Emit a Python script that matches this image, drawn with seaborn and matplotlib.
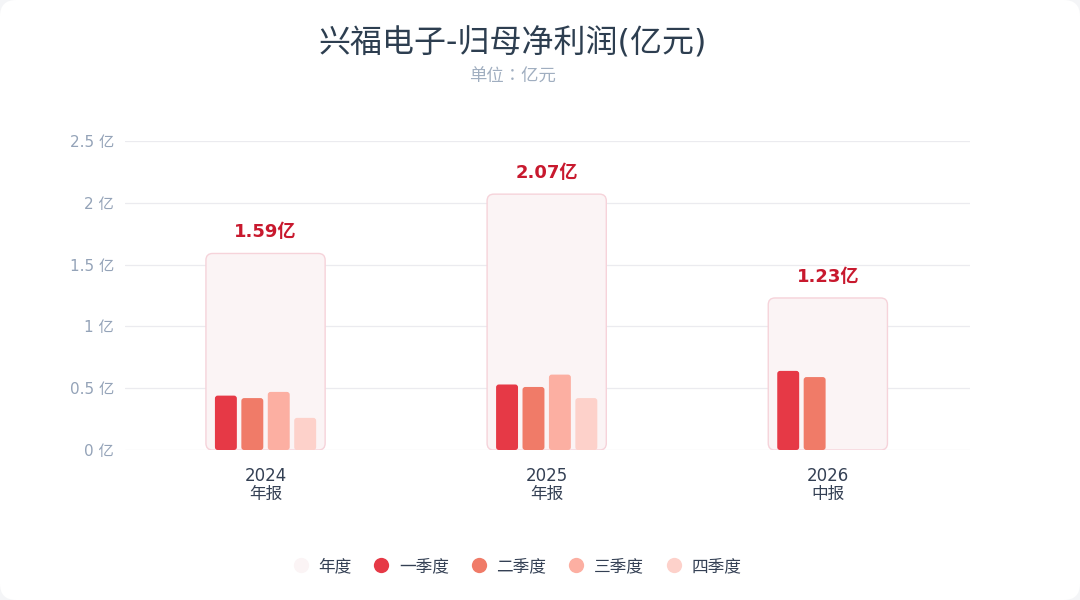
import matplotlib

matplotlib.use('Agg')
import matplotlib.pyplot as plt
from matplotlib.patches import FancyBboxPatch
from matplotlib.lines import Line2D
import numpy as np
import pandas as pd
import seaborn as sns

# data (亿元)
periods = ['2024\n年报', '2025\n年报', '2026\n中报']
annual = [1.59, 2.07, 1.23]
quarters = ['一季度', '二季度', '三季度', '四季度']
q1 = [0.44, 0.53, 0.64]
q2 = [0.42, 0.51, 0.59]
q3 = [0.47, 0.61, np.nan]
q4 = [0.26, 0.42, np.nan]
y_ticks = [0, 0.5, 1, 1.5, 2, 2.5]

q_colors = ['#e63946', '#f07b68', '#fcafa2', '#fdd1ca']
annual_fill = '#fbf4f5'
annual_edge = '#f6d3da'

sns.set_theme(style='white')
plt.rcParams['font.family'] = ['DejaVu Sans', 'Noto Sans CJK SC']

fig = plt.figure(figsize=(10.8, 6), dpi=100)
fig.patch.set_facecolor('#f4f5f7')
card = FancyBboxPatch((0, 0), 1, 1, boxstyle='round,pad=0,rounding_size=0.015',
                      transform=fig.transFigure, facecolor='white', edgecolor='none',
                      mutation_aspect=1.8, zorder=-10)
fig.patches.append(card)

ax = fig.add_axes([0.1157, 0.25, 0.7823, 0.515])
ax.set_facecolor('none')

df_year = pd.DataFrame({'period': periods, 'value': annual})
df_q = pd.DataFrame({
    'period': periods * 4,
    'quarter': np.repeat(quarters, 3),
    'value': q1 + q2 + q3 + q4,
})

# annual background boxes
sns.barplot(data=df_year, x='period', y='value', width=0.424, color=annual_fill,
            saturation=1, ax=ax, zorder=1)
n_year = len(ax.patches)
sns.barplot(data=df_q, x='period', y='value', hue='quarter', hue_order=quarters,
            palette=q_colors, saturation=1, width=0.376, gap=0.17, ax=ax,
            legend=False, zorder=2)

# x units: 281 px, y units: 123.6 px  -> aspect for rounding
aspect = 281 / 123.6
for i, p in enumerate(list(ax.patches)):
    x, y = p.get_x(), p.get_y()
    w, h = p.get_width(), p.get_height()
    if not np.isfinite(h) or h <= 0:
        p.remove()
        continue
    if i < n_year:
        rb = FancyBboxPatch((x, y), w, h, boxstyle='round,pad=0,rounding_size=0.024',
                            mutation_aspect=aspect, facecolor=annual_fill,
                            edgecolor=annual_edge, linewidth=1, zorder=1)
    else:
        rb = FancyBboxPatch((x, y), w, h, boxstyle='round,pad=0,rounding_size=0.01',
                            mutation_aspect=aspect, facecolor=p.get_facecolor(),
                            edgecolor='none', zorder=2)
    p.remove()
    ax.add_patch(rb)

for i, v in enumerate(annual):
    ax.text(i, v + 0.1, f'{v:.2f}亿', ha='center', va='bottom', fontsize=13,
            fontweight='bold', color='#c8192e')

ax.set_xlim(-0.5, 2.505)
ax.set_ylim(0, 2.5)
ax.set_yticks(y_ticks)
ax.set_yticklabels([f'{t:g} 亿' for t in y_ticks], color='#94a3b8', fontsize=11)
ax.set_xticks(range(len(periods)))
ax.set_xticklabels(periods, color='#344054', fontsize=12, linespacing=1.0)
ax.tick_params(axis='x', length=0, pad=12)
ax.tick_params(axis='y', length=0, pad=8)
ax.yaxis.grid(True, color='#ebebef', linewidth=0.9)
ax.set_axisbelow(True)
for s in ax.spines.values():
    s.set_visible(False)
ax.set_xlabel('')
ax.set_ylabel('')

fig.text(0.4745, 0.927, '兴福电子-归母净利润(亿元)', ha='center', va='center',
         fontsize=23, color='#2d3e50')
fig.text(0.4745, 0.872, '单位：亿元', ha='center', va='center', fontsize=12.5,
         color='#a0aec0', family=['Noto Sans CJK TC', 'DejaVu Sans'])

handles = [Line2D([], [], marker='o', linestyle='none', markersize=11,
                  markerfacecolor=annual_fill, markeredgecolor='none')]
handles += [Line2D([], [], marker='o', linestyle='none', markersize=11,
                   markerfacecolor=c, markeredgecolor='none') for c in q_colors]
leg = fig.legend(handles, ['年度'] + quarters, loc='center', bbox_to_anchor=(0.4745, 0.057),
                 ncol=5, frameon=False, fontsize=12, handletextpad=0.05,
                 columnspacing=0.8)
for t in leg.get_texts():
    t.set_color('#344054')

fig.savefig('out.png', dpi=100, facecolor=fig.get_facecolor())
